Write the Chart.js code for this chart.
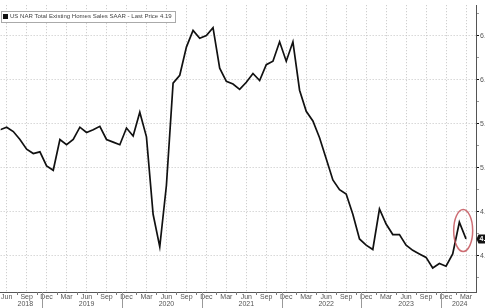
<!DOCTYPE html>
<html>
<head>
<meta charset="utf-8">
<script src="https://cdn.jsdelivr.net/npm/chart.js@4/dist/chart.umd.min.js"></script>
<style>
  html, body { margin: 0; padding: 0; background: #fff; overflow: hidden; }
  #wrap { width: 485px; height: 308px; }
</style>
</head>
<body>
<div id="wrap"><canvas id="salesChart" width="485" height="308"></canvas></div>
<script>
// monthly values, May 2018 -> Mar 2024 (millions, SAAR)
const salesValues = [
  5.43, 5.46, 5.41, 5.32, 5.21, 5.16, 5.18, 5.02,
  4.97, 5.32, 5.26, 5.32, 5.46, 5.40, 5.43, 5.47, 5.32, 5.29, 5.26, 5.45,
  5.36, 5.63, 5.35, 4.47, 4.10, 4.80, 5.96, 6.05, 6.37, 6.56, 6.47, 6.50,
  6.59, 6.13, 5.98, 5.95, 5.89, 5.97, 6.07, 5.99, 6.17, 6.21, 6.43, 6.21,
  6.43, 5.88, 5.64, 5.53, 5.34, 5.10, 4.86, 4.75, 4.70, 4.47, 4.19, 4.12,
  4.07, 4.53, 4.36, 4.24, 4.24, 4.12, 4.06, 4.02, 3.98, 3.86, 3.91, 3.88,
  4.02, 4.38, 4.19
];
const quarterLabels = ['Jun', 'Sep', 'Dec', 'Mar'];
const yearLabels = ['2018', '2019', '2020', '2021', '2022', '2023', '2024'];
const yTicks = [3.75, 4.0, 4.25, 4.5, 4.75, 5.0, 5.25, 5.5, 5.75, 6.0, 6.25, 6.5, 6.75];
const lastPrice = 4.19;
const seriesName = 'US NAR Total Existing Homes Sales SAAR';

// month index: Jun 2018 = 0, so first value (May 2018) sits at -1
const points = salesValues.map((v, i) => ({ x: i - 1, y: v }));
const lastIdx = salesValues.length - 2;

const txtFont = '"Liberation Sans", Arial, sans-serif';

function yearOf(m) { return 2018 + Math.floor((m + 5) / 12); }
function decIndex(year) { return (year - 2018) * 12 + 6; }

const decorPlugin = {
  id: 'decor',
  afterDraw(chart) {
    const ctx = chart.ctx;
    const xs = chart.scales.x, ys = chart.scales.y;
    const area = chart.chartArea;
    ctx.save();

    // small ticks between the quarter labels
    ctx.strokeStyle = '#777';
    ctx.lineWidth = 1;
    for (let m = 1.5; m < xs.max; m += 3) {
      const px = Math.round(xs.getPixelForValue(m)) + 0.5;
      ctx.beginPath(); ctx.moveTo(px, area.bottom); ctx.lineTo(px, area.bottom + 3); ctx.stroke();
    }

    // year separators and labels
    const seps = [];
    yearLabels.forEach(y => {
      const m = decIndex(+y) - 0.7;
      if (m > xs.min && m < xs.max) seps.push(xs.getPixelForValue(m));
    });
    ctx.strokeStyle = '#999';
    seps.forEach(px => {
      const p = Math.round(px) + 0.5;
      ctx.beginPath(); ctx.moveTo(p, area.bottom); ctx.lineTo(p, 308); ctx.stroke();
    });
    ctx.fillStyle = '#555';
    ctx.font = '7px ' + txtFont;
    ctx.textAlign = 'center';
    ctx.textBaseline = 'middle';
    yearLabels.forEach((y, i) => {
      let cx;
      if (i === 0) cx = (area.left + seps[0]) / 2 + 4;
      else if (i === yearLabels.length - 1) cx = (seps[seps.length - 1] + area.right) / 2 + 1;
      else cx = xs.getPixelForValue((+y - 2018) * 12);
      ctx.fillText(y, cx, 304.5);
    });

    // legend box
    ctx.textAlign = 'left';
    const legendText = seriesName + ' - Last Price ' + lastPrice.toFixed(2);
    ctx.font = '6.5px ' + txtFont;
    const w = ctx.measureText(legendText).width;
    const fs = Math.min(7, 6.5 * 162 / w);
    ctx.font = fs.toFixed(2) + 'px ' + txtFont;
    ctx.fillStyle = '#fff';
    ctx.fillRect(1, 11, 175, 11);
    ctx.strokeStyle = '#aaa';
    ctx.strokeRect(1.5, 11.5, 174, 11);
    ctx.fillStyle = '#111';
    ctx.fillRect(3, 14, 5, 5);
    ctx.fillStyle = '#444';
    ctx.fillText(legendText, 10, 16.8);

    // circle around the latest move
    const cx = (xs.getPixelForValue(lastIdx - 1) + xs.getPixelForValue(lastIdx)) / 2 + 0.5;
    const cy = (ys.getPixelForValue(salesValues[salesValues.length - 2]) + ys.getPixelForValue(lastPrice)) / 2;
    ctx.strokeStyle = 'rgba(196, 84, 90, 0.85)';
    ctx.lineWidth = 1.5;
    ctx.beginPath();
    ctx.ellipse(cx, cy, 9.5, 21, 0, 0, Math.PI * 2);
    ctx.stroke();

    // last price tag
    const ly = ys.getPixelForValue(lastPrice);
    ctx.fillStyle = '#111';
    ctx.beginPath();
    ctx.moveTo(area.right + 0.5, ly);
    ctx.lineTo(area.right + 2.5, ly - 4.5);
    ctx.lineTo(485, ly - 4.5);
    ctx.lineTo(485, ly + 4.5);
    ctx.lineTo(area.right + 2.5, ly + 4.5);
    ctx.closePath();
    ctx.fill();
    ctx.fillStyle = '#fff';
    ctx.font = 'bold 7px ' + txtFont;
    ctx.textBaseline = 'middle';
    ctx.fillText(lastPrice.toFixed(2), area.right + 3.5, ly + 0.5);

    ctx.restore();
  }
};

new Chart(document.getElementById('salesChart'), {
  type: 'line',
  data: {
    datasets: [{
      label: seriesName,
      data: points,
      borderColor: '#111',
      borderWidth: 1.7,
      pointRadius: 0,
      tension: 0,
      fill: false
    }]
  },
  options: {
    responsive: false,
    animation: false,
    devicePixelRatio: 1,
    layout: { padding: 0 },
    plugins: {
      legend: { display: false },
      tooltip: { enabled: false }
    },
    scales: {
      x: {
        type: 'linear',
        min: -0.9,
        max: 70.5,
        afterFit: s => { s.height = 16; },
        afterBuildTicks: s => {
          const t = [];
          for (let m = 0; m <= 69; m += 3) t.push({ value: m });
          s.ticks = t;
        },
        ticks: {
          autoSkip: false,
          maxRotation: 0,
          padding: 1,
          color: '#555',
          font: { size: 7, family: txtFont },
          callback: v => quarterLabels[(v / 3) % 4]
        },
        grid: {
          color: '#c4c4c4',
          lineWidth: 1,
          drawTicks: false
        },
        border: { display: true, color: '#555', width: 1, dash: [1, 2] }
      },
      y: {
        position: 'right',
        min: 3.587,
        max: 6.846,
        afterFit: s => { s.width = 9; },
        afterBuildTicks: s => { s.ticks = yTicks.map(v => ({ value: v })); },
        ticks: {
          padding: 1,
          color: '#555',
          font: { size: 7, family: txtFont },
          callback: v => (Math.round(v * 100) % 50 === 0 ? v.toFixed(2) : '')
        },
        grid: {
          color: c => (Math.round(c.tick.value * 100) % 50 === 0 ? '#c4c4c4' : 'rgba(0,0,0,0)'),
          lineWidth: 1,
          drawTicks: true,
          tickLength: 3,
          tickColor: c => (Math.round(c.tick.value * 100) % 50 === 0 ? '#111' : '#999')
        },
        border: { display: true, color: '#555', width: 1, dash: [1, 2] }
      }
    }
  },
  plugins: [decorPlugin]
});
</script>
</body>
</html>
